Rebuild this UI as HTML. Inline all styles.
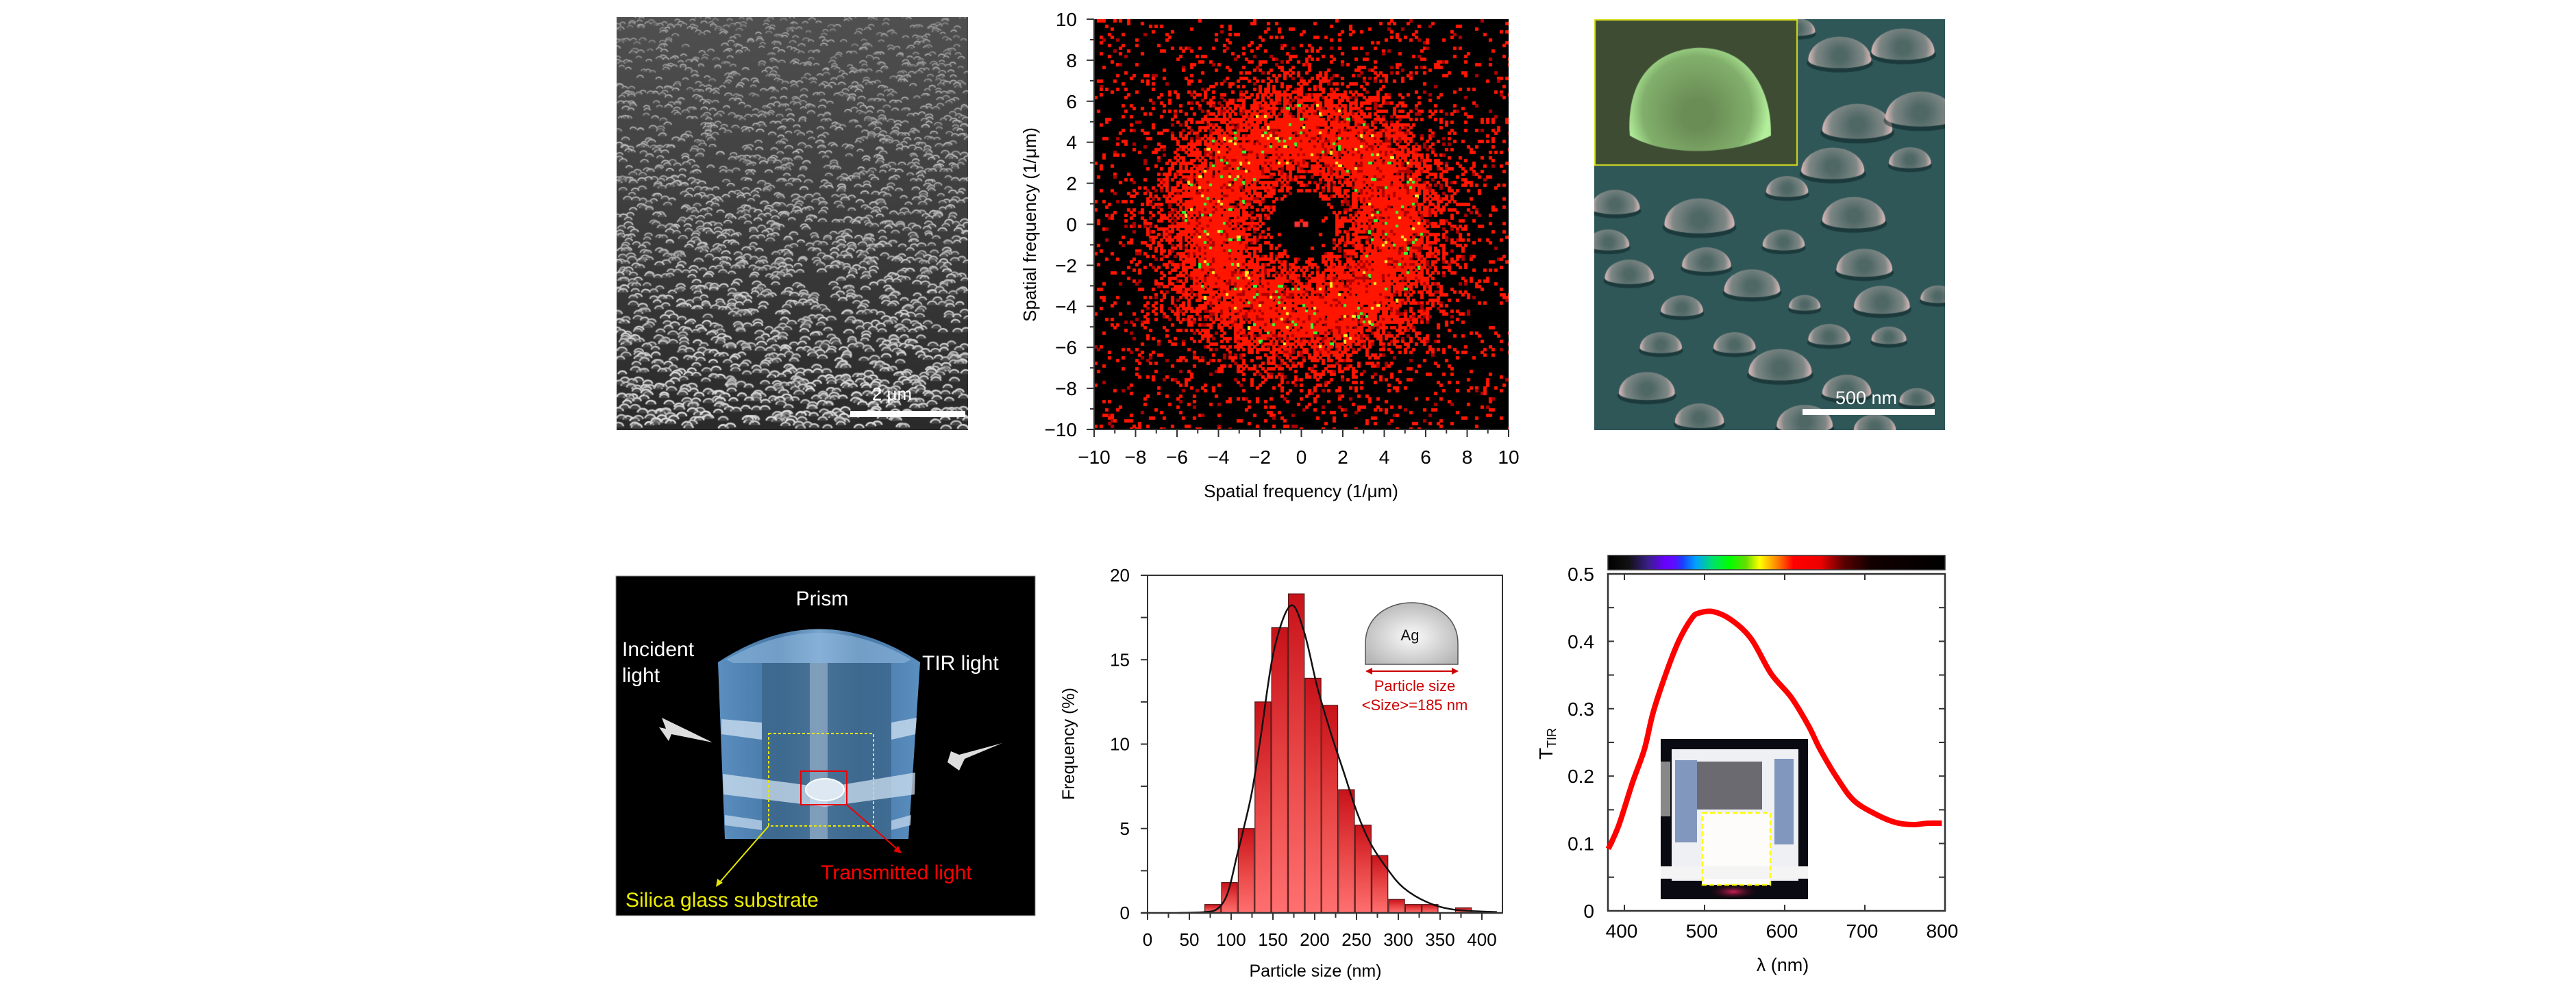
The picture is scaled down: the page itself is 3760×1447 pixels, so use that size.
<!DOCTYPE html>
<html><head><meta charset="utf-8"><style>
html,body{margin:0;padding:0;background:#fff;}
body{width:3760px;height:1447px;position:relative;overflow:hidden;font-family:"Liberation Sans",sans-serif;}
canvas{position:absolute;display:block;}
#main{position:absolute;left:0;top:0;}
</style></head><body>
<canvas id="sem1" width="513" height="603" style="left:900px;top:25px"></canvas>
<canvas id="fft" width="605" height="599" style="left:1597px;top:28px"></canvas>
<canvas id="sem2" width="512" height="600" style="left:2327px;top:28px"></canvas>
<svg id="main" width="3760" height="1447" xmlns="http://www.w3.org/2000/svg" font-family="Liberation Sans, sans-serif">
<defs>
<linearGradient id="barg" x1="0" y1="0" x2="0" y2="1"><stop offset="0" stop-color="#c8121a"/><stop offset="0.5" stop-color="#e84545"/><stop offset="1" stop-color="#ff7070"/></linearGradient>
<radialGradient id="domeg" cx="0.5" cy="0.55" r="0.6"><stop offset="0" stop-color="#fbfbfb"/><stop offset="1" stop-color="#b5b5b5"/></radialGradient>
<linearGradient id="prismg" x1="0" y1="0" x2="1" y2="0"><stop offset="0" stop-color="#5b8fc0"/><stop offset="0.3" stop-color="#4677a6"/><stop offset="0.5" stop-color="#7aa6cf"/><stop offset="0.7" stop-color="#4677a6"/><stop offset="1" stop-color="#5b8fc0"/></linearGradient>
<linearGradient id="specg" x1="0" y1="0" x2="1" y2="0">
<stop offset="0" stop-color="#000"/><stop offset="0.06" stop-color="#111"/><stop offset="0.12" stop-color="#3a1f8a"/><stop offset="0.17" stop-color="#6a00ff"/><stop offset="0.2" stop-color="#5a10ff"/><stop offset="0.22" stop-color="#1a3cff"/><stop offset="0.26" stop-color="#00a0ff"/><stop offset="0.31" stop-color="#00e070"/><stop offset="0.36" stop-color="#00ff00"/><stop offset="0.41" stop-color="#66dd00"/><stop offset="0.45" stop-color="#ffff00"/><stop offset="0.5" stop-color="#ff8800"/><stop offset="0.55" stop-color="#ff0000"/><stop offset="0.63" stop-color="#ee0000"/><stop offset="0.7" stop-color="#5a0000"/><stop offset="0.78" stop-color="#120000"/><stop offset="1" stop-color="#000"/></linearGradient>
<radialGradient id="glowg" cx="0.5" cy="0.5" r="0.5"><stop offset="0" stop-color="#d0205a"/><stop offset="1" stop-color="#000" stop-opacity="0"/></radialGradient>
</defs>
<g id="static">
<rect x="1241" y="600" width="168" height="9" fill="#fff"/>
<text x="1302" y="584" font-size="26" fill="#fff" text-anchor="middle">2 μm</text>
<rect x="2631" y="597" width="193" height="9" fill="#fff"/>
<text x="2724" y="590" font-size="27" fill="#fff" text-anchor="middle">500 nm</text>

<g>
<rect x="899" y="841" width="612" height="496" fill="#000" stroke="#999" stroke-width="1"/>
<path d="M1048,967 Q1195,870 1343,967 L1326,1225 L1058,1225 Z" fill="url(#prismg)"/>
<path d="M1060,963 Q1195,885 1330,963 L1320,968 L1070,968 Z" fill="#8fb8dc" opacity="0.6"/>
<rect x="1112" y="968" width="189" height="257" fill="#3c6589" opacity="0.8"/>
<path d="M1053,1050 L1112,1055 L1112,1080 L1053,1072 Z M1301,1055 L1338,1048 L1336,1072 L1301,1080 Z" fill="#c9dcef" opacity="0.8"/>
<path d="M1055,1130 L1204,1150 L1336,1128 L1335,1160 L1204,1178 L1056,1160 Z" fill="#cfe0f0" opacity="0.75"/>
<path d="M1058,1190 L1112,1198 L1112,1212 L1058,1205 Z M1301,1198 L1330,1190 L1329,1205 L1301,1212 Z" fill="#c9dcef" opacity="0.7"/>
<rect x="1182" y="968" width="26" height="257" fill="#e8f2fb" opacity="0.35"/>
<rect x="1122" y="1071" width="153" height="135" fill="none" stroke="#e6e600" stroke-width="2" stroke-dasharray="4,3"/>
<rect x="1169" y="1126" width="67" height="49" fill="none" stroke="#e00" stroke-width="2"/>
<ellipse cx="1204" cy="1153" rx="28" ry="16" fill="#dde8f2" stroke="#fff" stroke-width="2"/>
<line x1="1122" y1="1206" x2="1049" y2="1290" stroke="#e6e600" stroke-width="2"/>
<path d="M1045,1295 L1047,1283 L1055,1289 Z" fill="#e6e600"/>
<line x1="1236" y1="1175" x2="1312" y2="1242" stroke="#e00" stroke-width="2"/>
<path d="M1316,1246 L1304,1243 L1311,1235 Z" fill="#e00"/>
<path d="M966,1048 L1040,1084 L980,1072 L976,1082 L962,1062 L972,1064 Z" fill="#ddd"/>
<path d="M1463,1085 L1408,1108 L1400,1125 L1383,1113 L1388,1097 L1400,1102 Z" fill="#ddd"/>
<text x="1200" y="884" font-size="30" fill="#fff" text-anchor="middle">Prism</text>
<text x="908" y="958" font-size="30" fill="#fff">Incident</text>
<text x="908" y="996" font-size="30" fill="#fff">light</text>
<text x="1346" y="978" font-size="30" fill="#fff">TIR light</text>
<text x="1198" y="1284" font-size="30" fill="#f00">Transmitted light</text>
<text x="913" y="1324" font-size="30" fill="#ee0">Silica glass substrate</text>
</g>
</g>
<g id="fftAxes"></g>
<g id="hist"></g>
<g id="tir"></g>
</svg>
<script>
// ---------------- chart data ----------------
const fftTicks = [-10,-8,-6,-4,-2,0,2,4,6,8,10];
const histBinCenters = [78,98,118,138,158,178,198,218,238,258,278,298,318,338,378];
const histFreq = [0.5,1.8,5.0,12.5,16.9,18.9,13.9,12.3,7.3,5.2,3.4,0.8,0.5,0.5,0.3];
const fitX = [36,68,84,96,107,115,125,135,151,171,187,203,219,235,251,267,287,306,334,366,418];
const fitY = [0,0.05,0.26,1.2,3.4,5.0,7.2,10.3,15.5,18.2,16.7,13.4,10.7,8.3,5.9,4.1,2.6,1.5,0.65,0.2,0.05];
const histXTicks = [0,50,100,150,200,250,300,350,400];
const histYTicks = [0,5,10,15,20];
const tirLambda = [380,393,410,425,436,453,468,484,493,511,533,558,583,608,630,644,666,687,716,739,760,778,796];
const tirT = [0.092,0.127,0.190,0.240,0.295,0.356,0.401,0.434,0.442,0.444,0.432,0.404,0.352,0.317,0.274,0.240,0.196,0.163,0.142,0.131,0.128,0.130,0.130];
const tirXTicks = [400,500,600,700,800];
const tirYTicks = ["0","0.1","0.2","0.3","0.4","0.5"];

const NS = "http://www.w3.org/2000/svg";
function mk(parent, tag, attrs, txt){
  const e = document.createElementNS(NS, tag);
  for (const k in attrs) e.setAttribute(k, attrs[k]);
  if (txt !== undefined) e.textContent = txt;
  parent.appendChild(e);
  return e;
}
function smoothPath(pts){
  let d = "M" + pts[0][0] + "," + pts[0][1];
  for (let i=0;i<pts.length-1;i++){
    const p0=pts[Math.max(0,i-1)], p1=pts[i], p2=pts[i+1], p3=pts[Math.min(pts.length-1,i+2)];
    const c1x=p1[0]+(p2[0]-p0[0])/6, c1y=p1[1]+(p2[1]-p0[1])/6;
    const c2x=p2[0]-(p3[0]-p1[0])/6, c2y=p2[1]-(p3[1]-p1[1])/6;
    d += " C"+c1x+","+c1y+" "+c2x+","+c2y+" "+p2[0]+","+p2[1];
  }
  return d;
}
let seed = 12345;
function rnd(){ seed = (seed*1103515245+12345) & 0x7fffffff; return seed/0x7fffffff; }

// ---------------- FFT axes ----------------
(function(){
  const g = document.getElementById("fftAxes");
  const fx = v => 1597 + (v+10)*30.25;
  const fy = v => 627 - (v+10)*29.95;
  const ax = mk(g,"path",{d:"M1597,28 L1597,627 L2202,627",fill:"none",stroke:"#333","stroke-width":2});
  
  
  for (let v=-10; v<=10; v++){
    const major = v%2===0;
    const L = major?11:6;
    const tx = mk(g,"line",{x1:fx(v),y1:627,x2:fx(v),y2:627+L,stroke:"#333","stroke-width":2});
    
    
    const ty = mk(g,"line",{x1:1597-L,y1:fy(v),x2:1597,y2:fy(v),stroke:"#333","stroke-width":2});
    
    
  }
  fftTicks.forEach(v=>{
    const s = v<0 ? "\u2212"+(-v) : ""+v;
    const t1 = mk(g,"text",{x:fx(v),y:677,"font-size":28,"text-anchor":"middle"}, s);
    
    
    const t2 = mk(g,"text",{x:1572,y:fy(v)+10,"font-size":28,"text-anchor":"end"}, s);
    
    
  });
  const xl = mk(g,"text",{x:1899,y:726,"font-size":26,"text-anchor":"middle"},"Spatial frequency (1/\u03bcm)");
  
  
  const yl = mk(g,"text",{x:0,y:0,"font-size":26,"text-anchor":"middle",transform:"translate(1512,328) rotate(-90)"},"Spatial frequency (1/\u03bcm)");
  
  
})();

// ---------------- Histogram ----------------
(function(){
  const g = document.getElementById("hist");
  const hx = v => 1675 + v*1.22;
  const hy = v => 1333 - v*24.65;
  const frame = mk(g,"rect",{x:1675,y:840,width:518,height:493,fill:"none",stroke:"#333","stroke-width":2});
  
  
  histBinCenters.forEach((c,i)=>{
    const b = mk(g,"rect",{x:hx(c-9.5),y:hy(histFreq[i]),width:19*1.22,height:hy(0)-hy(histFreq[i]),fill:"url(#barg)",stroke:"#5a1a1a","stroke-width":1.2});
    
    
  });
  const pts = fitX.map((x,i)=>[hx(x),hy(fitY[i])]);
  const fit = mk(g,"path",{d:smoothPath(pts),fill:"none",stroke:"#111","stroke-width":2.5});
  
  
  mk(g,"line",{x1:1665,y1:1333,x2:2193,y2:1333,stroke:"#333","stroke-width":2.5});
  for (let v=0; v<=400; v+=25){
    const t = mk(g,"line",{x1:hx(v),y1:1333,x2:hx(v),y2:1333+(v%50===0?10:7),stroke:"#333","stroke-width":2});
    
    
  }
  for (let v=0; v<=20; v+=2.5){
    const t = mk(g,"line",{x1:1665,y1:hy(v),x2:1675,y2:hy(v),stroke:"#333","stroke-width":2});
    
    
  }
  histXTicks.forEach(v=>{
    const t = mk(g,"text",{x:hx(v),y:1381,"font-size":26,"text-anchor":"middle"},""+v);
    
    
  });
  histYTicks.forEach(v=>{
    const t = mk(g,"text",{x:1649,y:hy(v)+9,"font-size":26,"text-anchor":"end"},""+v);
    
    
  });
  const xl = mk(g,"text",{x:1920,y:1426,"font-size":25,"text-anchor":"middle"},"Particle size (nm)");
  
  
  const yl = mk(g,"text",{x:0,y:0,"font-size":25,"text-anchor":"middle",transform:"translate(1568,1086) rotate(-90)"},"Frequency (%)");
  
  
  const dome = mk(g,"path",{d:"M1993,970 L1993,940 C1993,860 2128,860 2128,940 L2128,970 Z",fill:"url(#domeg)",stroke:"#555","stroke-width":1.5});
  
  
  mk(g,"text",{x:2058,y:935,"font-size":22,"text-anchor":"middle",fill:"#111"},"Ag");
  mk(g,"line",{x1:1998,y1:980,x2:2124,y2:980,stroke:"#c00","stroke-width":2});
  mk(g,"path",{d:"M1993,980 L2003,975 L2003,985 Z M2129,980 L2119,975 L2119,985 Z",fill:"#c00"});
  const l1 = mk(g,"text",{x:2065,y:1009,"font-size":22,"text-anchor":"middle",fill:"#c00"},"Particle size");
  
  
  const l2 = mk(g,"text",{x:2065,y:1037,"font-size":22,"text-anchor":"middle",fill:"#c00"},"<Size>=185 nm");
  
  
})();

// ---------------- T_TIR ----------------
(function(){
  const g = document.getElementById("tir");
  const tx = v => 2371 + (v-400)*1.17;
  const ty = v => 1330 - v*984;
  const cb = mk(g,"rect",{x:2347,y:811,width:492,height:21,fill:"url(#specg)",stroke:"#333","stroke-width":1.5});
  
  
  const ph = mk(g,"g",{});
  
  
  mk(ph,"rect",{x:2424,y:1079,width:215,height:234,fill:"#0a0a12"});
  mk(ph,"rect",{x:2440,y:1094,width:185,height:192,fill:"#eef0f4"});
  mk(ph,"rect",{x:2445,y:1110,width:32,height:120,fill:"#3a5c98",opacity:"0.6"});
  mk(ph,"rect",{x:2590,y:1108,width:28,height:125,fill:"#3a5c98",opacity:"0.6"});
  mk(ph,"rect",{x:2477,y:1112,width:95,height:70,fill:"#6a6a70"});
  mk(ph,"rect",{x:2424,y:1112,width:14,height:80,fill:"#888"});
  mk(ph,"rect",{x:2484,y:1186,width:100,height:106,fill:"#fdfcfa"});
  mk(ph,"rect",{x:2424,y:1265,width:215,height:18,fill:"#f4f4f4"});
  mk(ph,"ellipse",{cx:2530,cy:1302,rx:40,ry:12,fill:"url(#glowg)"});
  mk(ph,"rect",{x:2485,y:1187,width:99,height:105,fill:"none",stroke:"#ffff00","stroke-width":2.5,"stroke-dasharray":"7,4"});
  const fr = mk(g,"rect",{x:2347,y:838,width:492,height:492,fill:"none",stroke:"#333","stroke-width":2.5});
  
  
  for (let v=0; v<=0.5001; v+=0.05){
    const y = ty(v);
    const a = mk(g,"line",{x1:2347,y1:y,x2:2356,y2:y,stroke:"#333","stroke-width":2});
    
    
    const b = mk(g,"line",{x1:2830,y1:y,x2:2839,y2:y,stroke:"#333","stroke-width":2});
    
    
  }
  tirXTicks.forEach(v=>{
    const a = mk(g,"line",{x1:tx(v),y1:1330,x2:tx(v),y2:1321,stroke:"#333","stroke-width":2});
    
    
    const b = mk(g,"line",{x1:tx(v),y1:838,x2:tx(v),y2:847,stroke:"#333","stroke-width":2});
    
    
    const t = mk(g,"text",{x:tx(v)-4,y:1369,"font-size":28,"text-anchor":"middle"},""+v);
    
    
  });
  tirYTicks.forEach(s=>{
    const t = mk(g,"text",{x:2327,y:ty(parseFloat(s))+10,"font-size":28,"text-anchor":"end"},s);
    
    
  });
  const pts = tirLambda.map((l,i)=>[tx(l),ty(tirT[i])]);
  const cv = mk(g,"path",{d:smoothPath(pts),fill:"none",stroke:"#ff0000","stroke-width":8,"stroke-linejoin":"round"});
  
  
  const xl = mk(g,"text",{x:2602,y:1418,"font-size":27,"text-anchor":"middle"},"\u03bb (nm)");
  
  
  const yl = mk(g,"text",{x:0,y:0,"font-size":28,"text-anchor":"middle",transform:"translate(2266,1086) rotate(-90)"});
  
  
  mk(yl,"tspan",{},"T");
  mk(yl,"tspan",{"font-size":18,dy:"5"},"TIR");
})();

// ---------------- image textures ----------------
(function(){
  const c = document.getElementById("sem1"), x = c.getContext("2d");
  const W=c.width,H=c.height;
  const gr = x.createLinearGradient(0,0,0,H); gr.addColorStop(0,"#505050"); gr.addColorStop(1,"#2a2a2a");
  x.fillStyle=gr; x.fillRect(0,0,W,H);
  for (let i=0;i<2600;i++){
    const py = rnd()*H, px = rnd()*W;
    const f = py/H;
    const r = 3.5+3*f+rnd()*1.5;
    const b = Math.floor(130+60*f+rnd()*40);
    x.strokeStyle="rgb("+b+","+b+","+b+")";
    x.lineWidth=1.6+f;
    x.beginPath(); x.ellipse(px,py,r,r*0.85,0,Math.PI*1.05,Math.PI*1.95); x.stroke();
    x.fillStyle="rgba(90,90,90,0.6)";
    x.beginPath(); x.ellipse(px,py,r*0.8,r*0.6,0,Math.PI,2*Math.PI); x.fill();
  }
})();
(function(){
  const c = document.getElementById("fft"), x = c.getContext("2d");
  const W=c.width,H=c.height;
  x.fillStyle="#000"; x.fillRect(0,0,W,H);
  const cs=4;
  for (let py=0; py<H; py+=cs){
    for (let px=0; px<W; px+=cs){
      const ux=(px-W/2)/30.25, uy=(py-H/2)/29.95;
      const r=Math.sqrt(ux*ux+uy*uy);
      let p = r<1.6 ? 0.02 : (r<2.3 ? 0.4 : 0.88*Math.exp(-Math.pow((r-4.4)/2.5,2))+0.08);
      if (rnd()<p){
        x.fillStyle = rnd()<0.85 ? "#ff1500" : "#b00000";
        x.fillRect(px,py,cs+1,cs+1);
        if (r>3 && r<6 && rnd()<0.05){ x.fillStyle = rnd()<0.6?"#33ff33":"#ffee22"; x.fillRect(px,py,cs+2,cs+2); }
      }
    }
  }
  x.fillStyle="#ff3030"; x.fillRect(W/2-10,H/2-4,8,8); x.fillRect(W/2+2,H/2-4,8,8);
})();
(function(){
  const c = document.getElementById("sem2"), x = c.getContext("2d");
  const W=c.width,H=c.height;
  x.fillStyle="#2f5758"; x.fillRect(0,0,W,H);
  const domes=[[0.7,0.1,0.09],[0.88,0.08,0.09],[0.75,0.27,0.1],[0.93,0.24,0.1],[0.68,0.37,0.09],[0.9,0.35,0.06],[0.06,0.46,0.07],[0.3,0.5,0.1],[0.55,0.42,0.06],[0.74,0.49,0.09],[0.04,0.55,0.06],[0.32,0.6,0.07],[0.54,0.55,0.06],[0.1,0.63,0.07],[0.77,0.61,0.08],[0.45,0.66,0.08],[0.6,0.7,0.045],[0.82,0.7,0.08],[0.98,0.68,0.05],[0.25,0.71,0.06],[0.19,0.8,0.06],[0.67,0.78,0.06],[0.84,0.78,0.05],[0.4,0.8,0.06],[0.53,0.86,0.09],[0.15,0.91,0.08],[0.72,0.91,0.07],[0.92,0.93,0.05],[0.3,0.98,0.07],[0.6,0.99,0.08],[0.8,1.0,0.06],[0.58,0.03,0.05]];
  domes.forEach(d=>{
    const cx=d[0]*W, cy=d[1]*H, r=d[2]*W;
    x.fillStyle="rgba(10,30,30,0.5)";
    x.beginPath(); x.ellipse(cx,cy+4,r*1.05,r*0.3,0,0,2*Math.PI); x.fill();
    const g=x.createRadialGradient(cx,cy-r*0.15,r*0.2,cx,cy-r*0.1,r*1.05);
    g.addColorStop(0,"#4f6866"); g.addColorStop(0.65,"#7f8886"); g.addColorStop(1,"#f0c4c6");
    x.fillStyle=g;
    x.beginPath(); x.ellipse(cx,cy,r,r*0.75,0,Math.PI,2*Math.PI); x.lineTo(cx+r,cy); x.ellipse(cx,cy,r,r*0.25,0,0,Math.PI); x.fill();
  });
  const iw=297, ih=214;
  x.fillStyle="#3d4c33"; x.fillRect(0,0,iw,ih);
  const g=x.createRadialGradient(150,140,20,150,130,105);
  g.addColorStop(0,"#6a8c55"); g.addColorStop(0.7,"#82b06c"); g.addColorStop(1,"#b4f09c");
  x.fillStyle=g;
  x.beginPath(); x.moveTo(52,170); x.bezierCurveTo(45,60,120,40,160,42); x.bezierCurveTo(230,45,260,110,258,170); x.bezierCurveTo(200,200,100,200,52,170); x.fill();
  x.strokeStyle="#d8e020"; x.lineWidth=2; x.strokeRect(1,1,iw-2,ih-2);
})();
</script>
</body></html>
